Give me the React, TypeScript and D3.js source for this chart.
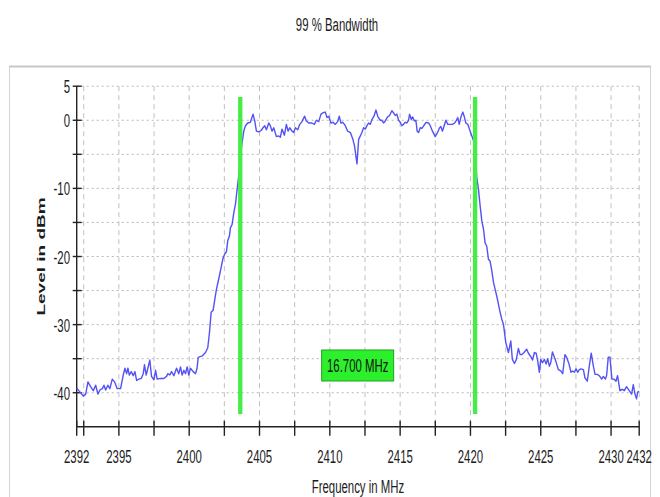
import React from 'react';
import * as d3 from 'd3';

// Spectrum sweep: frequency (MHz) and measured level (dBm)
const freqMHz = [
  2392.0, 2392.04, 2392.23, 2392.47, 2392.64, 2392.8, 2392.99, 2393.18, 2393.35, 2393.51,
  2393.65, 2393.82, 2393.94, 2394.06, 2394.22, 2394.36, 2394.53, 2394.69, 2394.88, 2395.12,
  2395.31, 2395.43, 2395.55, 2395.64, 2395.74, 2395.88, 2396.02, 2396.14, 2396.26, 2396.42,
  2396.59, 2396.73, 2396.82, 2396.94, 2397.06, 2397.2, 2397.32, 2397.49, 2397.61, 2397.72,
  2397.96, 2398.2, 2398.39, 2398.48, 2398.62, 2398.74, 2398.91, 2399.1, 2399.26, 2399.38,
  2399.5, 2399.62, 2399.74, 2399.85, 2399.97, 2400.09, 2400.28, 2400.45, 2400.56, 2400.64,
  2400.92, 2401.16, 2401.32, 2401.44, 2401.56, 2401.7, 2401.82, 2401.94, 2402.1, 2402.22,
  2402.39, 2402.51, 2402.65, 2402.74, 2402.86, 2402.93, 2403.05, 2403.17, 2403.29, 2403.41,
  2403.52, 2403.69, 2403.88, 2404.0, 2404.16, 2404.35, 2404.54, 2404.66, 2404.78, 2404.95,
  2405.11, 2405.25, 2405.37, 2405.49, 2405.66, 2405.77, 2405.89, 2406.01, 2406.2, 2406.37,
  2406.48, 2406.6, 2406.77, 2406.91, 2407.03, 2407.15, 2407.31, 2407.43, 2407.55, 2407.72,
  2407.86, 2408.02, 2408.21, 2408.33, 2408.5, 2408.73, 2408.9, 2409.04, 2409.21, 2409.37,
  2409.51, 2409.68, 2409.8, 2409.92, 2410.08, 2410.22, 2410.39, 2410.56, 2410.67, 2410.79,
  2410.93, 2411.1, 2411.27, 2411.46, 2411.64, 2411.76, 2411.93, 2412.05, 2412.17, 2412.28,
  2412.4, 2412.52, 2412.64, 2412.76, 2412.88, 2412.99, 2413.14, 2413.28, 2413.42, 2413.59,
  2413.7, 2413.82, 2413.94, 2414.11, 2414.25, 2414.41, 2414.53, 2414.65, 2414.77, 2414.89,
  2415.01, 2415.12, 2415.24, 2415.36, 2415.48, 2415.6, 2415.67, 2415.79, 2415.88, 2416.02,
  2416.12, 2416.21, 2416.31, 2416.43, 2416.55, 2416.71, 2416.85, 2417.02, 2417.14, 2417.3,
  2417.49, 2417.66, 2417.78, 2417.89, 2418.01, 2418.13, 2418.25, 2418.39, 2418.56, 2418.72,
  2418.87, 2418.98, 2419.1, 2419.2, 2419.34, 2419.46, 2419.58, 2419.67, 2419.81, 2419.98,
  2420.1, 2420.22, 2420.33, 2420.45, 2420.57, 2420.69, 2420.81, 2420.93, 2421.04, 2421.16,
  2421.28, 2421.4, 2421.52, 2421.64, 2421.75, 2421.87, 2421.99, 2422.11, 2422.23, 2422.35,
  2422.51, 2422.7, 2422.87, 2422.98, 2423.13, 2423.25, 2423.41, 2423.53, 2423.65, 2423.81,
  2424.0, 2424.12, 2424.29, 2424.41, 2424.55, 2424.67, 2424.78, 2424.9, 2425.0, 2425.12,
  2425.26, 2425.38, 2425.49, 2425.61, 2425.71, 2425.83, 2425.97, 2426.09, 2426.25, 2426.42,
  2426.56, 2426.72, 2426.84, 2427.01, 2427.15, 2427.27, 2427.39, 2427.51, 2427.62, 2427.74,
  2427.86, 2428.03, 2428.14, 2428.31, 2428.45, 2428.59, 2428.74, 2428.86, 2429.02, 2429.16,
  2429.33, 2429.45, 2429.59, 2429.68, 2429.8, 2429.92, 2430.06, 2430.2, 2430.35, 2430.46,
  2430.63, 2430.8, 2430.94, 2431.1, 2431.29, 2431.46, 2431.58, 2431.7, 2431.81, 2431.89,
  2432.0,
];

const levelDbm = [
  -39.3, -39.4, -39.9, -40.5, -40.2, -38.4, -39.1, -39.7, -38.9, -40.2,
  -39.6, -39.4, -38.9, -39.6, -38.9, -39.4, -38.0, -38.4, -39.4, -39.4,
  -37.4, -36.4, -37.2, -36.4, -37.4, -36.9, -37.5, -36.9, -38.2, -38.0,
  -37.9, -37.2, -35.9, -37.4, -36.4, -35.2, -37.6, -38.1, -36.7, -38.0,
  -37.9, -37.9, -37.6, -37.2, -37.4, -36.9, -37.5, -36.4, -37.2, -36.2,
  -37.4, -36.7, -37.2, -36.2, -37.4, -36.4, -36.9, -37.2, -36.4, -34.8,
  -34.6, -34.1, -33.4, -31.2, -28.2, -27.9, -26.3, -24.8, -23.3, -22.1,
  -20.4, -19.7, -19.3, -17.7, -17.0, -15.8, -15.3, -13.6, -12.3, -10.1,
  -8.2, -4.3, -1.6, -0.8, -0.4, -0.3, 0.9, -0.1, -1.6, -1.7,
  -1.5, -1.1, -0.8, -1.4, -0.4, -0.8, -1.6, -1.1, -2.4, -2.3,
  -2.5, -1.3, -2.2, -0.6, -1.6, -1.1, -1.6, -1.8, -1.1, -1.4,
  -0.6, -0.2, 0.6, -0.1, -0.4, -0.4, -0.6, 0.0, -0.2, 0.9,
  1.1, 1.2, 0.4, 0.6, -0.4, -0.3, -0.6, -0.2, 0.6, -0.4,
  -0.3, -0.8, -1.6, -1.8, -2.8, -3.8, -6.4, -2.8, -2.3, -1.8,
  -1.1, -1.3, -0.8, -0.4, -0.6, 0.1, 0.6, 1.5, 0.5, 0.0,
  0.0, -0.4, -0.1, 0.5, 0.7, 1.4, 1.1, 0.7, 0.9, 0.0,
  -0.3, -0.8, -0.6, -0.3, -0.4, 0.0, 0.9, 0.1, 0.5, -0.1,
  0.0, -1.6, -1.8, -1.1, -1.2, -0.7, -0.3, -0.4, -0.8, -1.6,
  -2.4, -1.8, -1.2, -0.9, -1.6, -0.8, 0.0, -0.6, -0.6, -0.6,
  -0.4, -0.1, 0.4, -0.6, 0.6, 1.2, 0.4, -0.4, -0.6, -1.6,
  -2.3, -3.0, -4.7, -8.4, -10.1, -12.6, -14.8, -16.0, -18.0, -18.5,
  -20.4, -20.7, -22.1, -23.8, -24.8, -25.8, -27.0, -28.2, -29.2, -30.0,
  -32.6, -34.1, -32.4, -35.1, -35.7, -35.2, -33.5, -34.4, -34.4, -34.1,
  -33.6, -34.2, -34.7, -35.2, -34.1, -34.2, -35.3, -37.0, -35.1, -35.6,
  -35.1, -35.8, -35.0, -36.1, -35.6, -34.0, -34.8, -35.5, -36.6, -36.8,
  -37.2, -34.4, -34.8, -35.8, -37.0, -36.8, -37.0, -36.5, -37.0, -36.6,
  -36.5, -36.6, -37.8, -38.3, -36.1, -34.2, -36.1, -37.3, -37.3, -37.5,
  -38.0, -37.6, -38.0, -37.5, -34.8, -34.8, -38.0, -38.0, -38.3, -37.5,
  -39.7, -39.5, -39.7, -39.1, -39.7, -40.2, -38.8, -40.2, -40.9, -39.9,
  -39.8,
];

// Occupied-bandwidth markers (MHz) and the stated width
const markerFreqs = [2403.63, 2420.33];
const bandwidthText = '16.700 MHz';

const xTickValues = [
  2392, 2392.5, 2395, 2397.5, 2400, 2402.5, 2405, 2407.5, 2410, 2412.5, 2415,
  2417.5, 2420, 2422.5, 2425, 2427.5, 2430, 2432,
];
const xLabelValues = [2392, 2395, 2400, 2405, 2410, 2415, 2420, 2425, 2430, 2432];
const xGridValues = [
  2392.5, 2395, 2397.5, 2400, 2402.5, 2405, 2407.5, 2410, 2412.5, 2415,
  2417.5, 2420, 2422.5, 2425, 2427.5, 2430, 2432,
];
const yTickValues = [5, 0, -5, -10, -15, -20, -25, -30, -35, -40];
const yLabelValues = [5, 0, -10, -20, -30, -40];

const chartTitle = '99 % Bandwidth';
const xTitle = 'Frequency in MHz';
const yTitle = 'Level in dBm';

const FONT = "'Liberation Sans', Arial, sans-serif";
const SQUEEZE = 0.6;

type TextProps = {
  x: number;
  y: number;
  anchor?: 'start' | 'middle' | 'end';
  size: number;
  weight?: string;
  fill?: string;
  children: React.ReactNode;
};

// Condensed text: horizontally squeezed glyphs
function Narrow({ x, y, anchor = 'middle', size, weight = 'normal', fill = '#1c1c1c', children }: TextProps) {
  return (
    <text
      transform={`translate(${x},${y}) scale(${SQUEEZE},1)`}
      textAnchor={anchor}
      fontFamily={FONT}
      fontSize={size}
      fontWeight={weight}
      fill={fill}
    >
      {children}
    </text>
  );
}

export default function App() {
  const width = 660;
  const height = 497;

  const x = d3.scaleLinear().domain([2392, 2432]).range([76.7, 639.2]);
  const y = d3.scaleLinear().domain([-45, 5]).range([426.8, 86.2]);

  const points: [number, number][] = freqMHz.map((f, i) => [f, levelDbm[i]]);
  const line = d3
    .line<[number, number]>()
    .x((d) => x(d[0]))
    .y((d) => y(d[1]));

  const [x0, x1] = x.range();
  const yTop = y(5);
  const yBase = y(-45);

  const midFreq = (markerFreqs[0] + markerFreqs[1]) / 2;
  const boxCx = x(midFreq);
  const boxCy = y(-36);

  return (
    <svg
      width={width}
      height={height}
      style={{ position: 'absolute', left: 0, top: 0, background: '#fff' }}
    >
      <rect x={0} y={0} width={width} height={height} fill="#fff" />

      {/* title */}
      <Narrow x={337} y={31} size={19}>
        {chartTitle}
      </Narrow>

      {/* panel frame */}
      <rect x={9.5} y={66.5} width={641} height={440} fill="#fff" stroke="#d4d4d4" strokeWidth={1} />
      <line x1={9} x2={651} y1={66.5} y2={66.5} stroke="#c8c8c8" strokeWidth={2} />

      {/* horizontal grid */}
      {yTickValues.map((v) => (
        <line
          key={`hg${v}`}
          x1={x0}
          x2={x1}
          y1={y(v)}
          y2={y(v)}
          stroke="#b8b8b8"
          strokeWidth={1}
          strokeDasharray="2,3"
        />
      ))}

      {/* vertical grid */}
      {xGridValues.map((v) => (
        <line
          key={`vg${v}`}
          x1={x(v)}
          x2={x(v)}
          y1={yTop}
          y2={yBase}
          stroke="#c0c0c0"
          strokeWidth={1}
          strokeDasharray="5,4"
        />
      ))}

      {/* axes */}
      <line x1={x0} x2={x0} y1={yTop} y2={yBase} stroke="#222" strokeWidth={1.4} />
      <line x1={x0} x2={x1} y1={yBase} y2={yBase} stroke="#222" strokeWidth={1.4} />

      {yTickValues.map((v) => (
        <line key={`yt${v}`} x1={x0 - 4} x2={x0 + 5} y1={y(v)} y2={y(v)} stroke="#222" strokeWidth={1.4} />
      ))}
      {yLabelValues.map((v) => (
        <Narrow key={`yl${v}`} x={70} y={y(v) + 7} anchor="end" size={19}>
          {String(v)}
        </Narrow>
      ))}

      {xTickValues.map((v) => (
        <line key={`xt${v}`} x1={x(v)} x2={x(v)} y1={yBase - 6} y2={yBase + 9} stroke="#222" strokeWidth={1.4} />
      ))}
      {xLabelValues.map((v) => (
        <Narrow key={`xl${v}`} x={x(v)} y={463} size={19}>
          {String(v)}
        </Narrow>
      ))}

      {/* axis titles */}
      <Narrow x={(x0 + x1) / 2} y={493} size={19}>
        {xTitle}
      </Narrow>
      <text
        transform={`translate(45,${(yTop + yBase) / 2}) rotate(-90) scale(1,${SQUEEZE})`}
        textAnchor="middle"
        fontFamily={FONT}
        fontSize={19}
        fontWeight="bold"
        fill="#1c1c1c"
      >
        {yTitle}
      </text>

      {/* spectrum trace */}
      <path d={line(points) ?? ''} fill="none" stroke="#5252f5" strokeWidth={1.4} strokeLinejoin="round" />

      {/* bandwidth markers */}
      {markerFreqs.map((f) => (
        <line key={`m${f}`} x1={x(f)} x2={x(f)} y1={97} y2={414} stroke="#44ee44" strokeWidth={4.3} />
      ))}

      {/* bandwidth label */}
      <rect
        x={boxCx - 36}
        y={boxCy - 15.5}
        width={72}
        height={31}
        fill="#2cf02c"
        stroke="#22a022"
        strokeWidth={1}
      />
      <Narrow x={boxCx} y={boxCy + 7} size={19} fill="#111">
        {bandwidthText}
      </Narrow>
    </svg>
  );
}
